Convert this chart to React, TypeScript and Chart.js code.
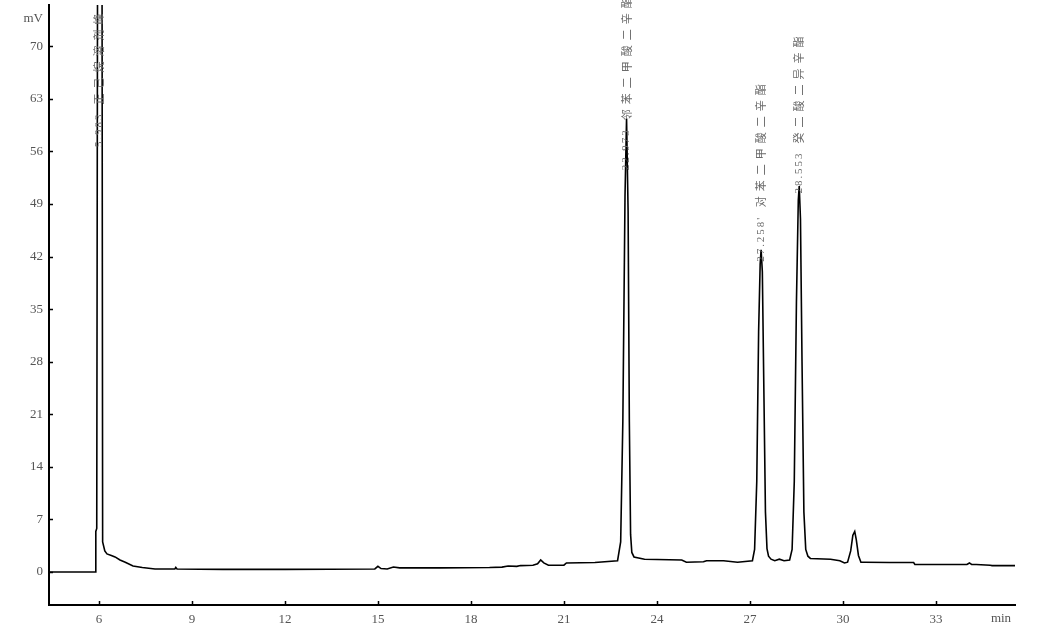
import React, { useEffect, useRef } from "react";
import { Chart, registerables } from "chart.js";

Chart.register(...registerables);

// Retention time (min)
const times: number[] = [
  4.39, 5.89, 5.9, 5.93, 6.04, 6.12, 6.19, 6.26, 6.4, 6.52, 6.68, 6.85, 7.1, 7.4, 7.81,
  8.45, 8.48, 8.52, 10.0, 12.0, 14.9, 15.0, 15.1, 15.3, 15.5, 15.7, 17.0, 18.6, 19.0, 19.2,
  19.48, 19.6, 20.0, 20.15, 20.25, 20.35, 20.5, 21.0, 21.08, 22.0, 22.73, 22.83, 22.9, 22.97,
  23.02, 23.07, 23.11, 23.15, 23.19, 23.26, 23.6, 24.8, 24.95, 25.5, 25.6, 26.15, 26.6, 27.08,
  27.15, 27.22, 27.28, 27.33, 27.36, 27.4, 27.45, 27.5, 27.55, 27.6, 27.68, 27.8, 27.95, 28.1,
  28.28, 28.36, 28.43, 28.5, 28.56, 28.59, 28.63, 28.68, 28.74, 28.8, 28.87, 28.95, 29.6, 29.9,
  30.05, 30.15, 30.25, 30.32, 30.38, 30.43, 30.5, 30.58, 30.7, 31.5, 32.28, 32.32, 34.0, 34.08,
  34.15, 34.3, 34.75, 34.81, 35.55,
];

// Detector signal (mV)
const signal: number[] = [
  0, 0, 5.4, 5.8, 320, 4.0, 2.8, 2.4, 2.2, 2.0, 1.6, 1.3, 0.8, 0.6, 0.4,
  0.4, 0.6, 0.4, 0.35, 0.35, 0.4, 0.75, 0.45, 0.4, 0.65, 0.55, 0.55, 0.6, 0.65, 0.8,
  0.75, 0.85, 0.9, 1.1, 1.6, 1.2, 0.9, 0.9, 1.2, 1.25, 1.5, 4, 20, 50,
  60.4, 48, 20, 5, 2.6, 2.0, 1.7, 1.6, 1.3, 1.35, 1.5, 1.5, 1.3, 1.5,
  3, 12, 32, 41, 42.9, 40, 24, 8, 3.1, 2.1, 1.7, 1.5, 1.7, 1.5,
  1.6, 3, 12, 36, 49.5, 51.4, 47, 28, 8, 3, 2.1, 1.8, 1.7, 1.5,
  1.2, 1.3, 2.8, 4.9, 5.4, 4.3, 2.2, 1.3, 1.3, 1.25, 1.25, 1.0, 1.0, 1.2,
  1.0, 1.0, 0.9, 0.85, 0.85,
];

const xTicks: number[] = [6, 9, 12, 15, 18, 21, 24, 27, 30, 33];
const yTicks: number[] = [0, 7, 14, 21, 28, 35, 42, 49, 56, 63, 70];

// Peak annotations
const peakTimes: number[] = [6.0, 23.02, 27.36, 28.59];
const peakNumbers: string[] = ["5.983", "22.973", "27.258'", "28.553"];
const peakNames: string[] = ["正己烷溶剂峰", "邻苯二甲酸二辛酯", "对苯二甲酸二辛酯", "癸二酸二异辛酯"];
const peakLabelBase: number[] = [56.6, 53.5, 41.3, 50.4];

const X_MIN = 4.39;
const X_MAX = 35.55;
const Y_MIN = -4.4;
const Y_MAX = 75.5;

const labelColor = "#555555";
const peakLabelColor = "#6a6a6a";
const serif = '"Liberation Serif", "DejaVu Serif", serif';

const overlayPlugin = {
  id: "overlay",
  afterDraw(chart: any) {
    const ctx = chart.ctx as CanvasRenderingContext2D;
    const xs = chart.scales.x;
    const ys = chart.scales.y;
    const area = chart.chartArea;
    ctx.save();
    // inward tick marks
    ctx.strokeStyle = "#000";
    ctx.lineWidth = 1.5;
    ctx.beginPath();
    for (const v of yTicks) {
      const y = Math.round(ys.getPixelForValue(v)) + 0.5;
      ctx.moveTo(area.left, y);
      ctx.lineTo(area.left + 4, y);
    }
    for (const v of xTicks) {
      const x = Math.round(xs.getPixelForValue(v)) + 0.5;
      ctx.moveTo(x, area.bottom);
      ctx.lineTo(x, area.bottom - 4);
    }
    ctx.stroke();

    // unit labels
    ctx.fillStyle = labelColor;
    ctx.font = `13px ${serif}`;
    ctx.textAlign = "right";
    ctx.textBaseline = "middle";
    ctx.fillText("mV", area.left - 6, 19);
    ctx.textAlign = "center";
    ctx.textBaseline = "top";
    ctx.fillText("min", area.right - 14, area.bottom + 7);

    // peak labels, rotated, reading bottom to top
    for (let i = 0; i < peakTimes.length; i++) {
      const px = xs.getPixelForValue(peakTimes[i]);
      const py = ys.getPixelForValue(peakLabelBase[i]);
      ctx.save();
      ctx.translate(px, py);
      ctx.rotate(-Math.PI / 2);
      ctx.textBaseline = "middle";
      ctx.textAlign = "left";
      ctx.fillStyle = peakLabelColor;
      let pos = 0;
      ctx.font = `11px ${serif}`;
      for (const ch of peakNumbers[i]) {
        ctx.fillText(ch, pos, 0);
        pos += ch === "." || ch === "'" ? 4.5 : 7.5;
      }
      pos += 8;
      ctx.font = '11px "Noto Sans CJK SC", sans-serif';
      for (const ch of peakNames[i]) {
        ctx.fillText(ch, pos, 0);
        pos += 16;
      }
      ctx.restore();
    }
    ctx.restore();
  },
};

export default function App() {
  const canvasRef = useRef<HTMLCanvasElement | null>(null);

  useEffect(() => {
    document.body.style.margin = "0";
    const canvas = canvasRef.current;
    if (!canvas) return;
    const data = times.map((t, i) => ({ x: t, y: signal[i] }));
    const chart = new Chart(canvas, {
      type: "line",
      data: {
        datasets: [
          {
            data,
            borderColor: "#000",
            borderWidth: 1.6,
            pointRadius: 0,
            tension: 0,
            fill: false,
          },
        ],
      },
      options: {
        animation: false,
        responsive: false,
        maintainAspectRatio: false,
        layout: { padding: { top: 5, right: 33, left: 0, bottom: 0 } },
        plugins: { legend: { display: false }, tooltip: { enabled: false } },
        scales: {
          x: {
            type: "linear",
            min: X_MIN,
            max: X_MAX,
            afterBuildTicks: (s: any) => {
              s.ticks = xTicks.map((v) => ({ value: v }));
            },
            afterFit: (s: any) => {
              s.height = 38;
              s.paddingLeft = 0;
              s.paddingRight = 0;
            },
            grid: { display: false, drawTicks: false },
            border: { display: true, color: "#000", width: 2 },
            ticks: {
              color: labelColor,
              font: { family: serif, size: 13 },
              padding: 7,
              maxRotation: 0,
              autoSkip: false,
            },
          },
          y: {
            type: "linear",
            min: Y_MIN,
            max: Y_MAX,
            afterBuildTicks: (s: any) => {
              s.ticks = yTicks.map((v) => ({ value: v }));
            },
            afterFit: (s: any) => {
              s.width = 49;
              s.paddingTop = 0;
              s.paddingBottom = 0;
            },
            grid: { display: false, drawTicks: false },
            border: { display: true, color: "#000", width: 2 },
            ticks: {
              color: labelColor,
              font: { family: serif, size: 13 },
              padding: 6,
              autoSkip: false,
            },
          },
        },
      },
      plugins: [overlayPlugin],
    });
    return () => chart.destroy();
  }, []);

  return (
    <div style={{ position: "fixed", left: 0, top: 0, width: 1048, height: 643, background: "#fff" }}>
      <canvas ref={canvasRef} width={1048} height={643} style={{ display: "block" }} />
    </div>
  );
}
